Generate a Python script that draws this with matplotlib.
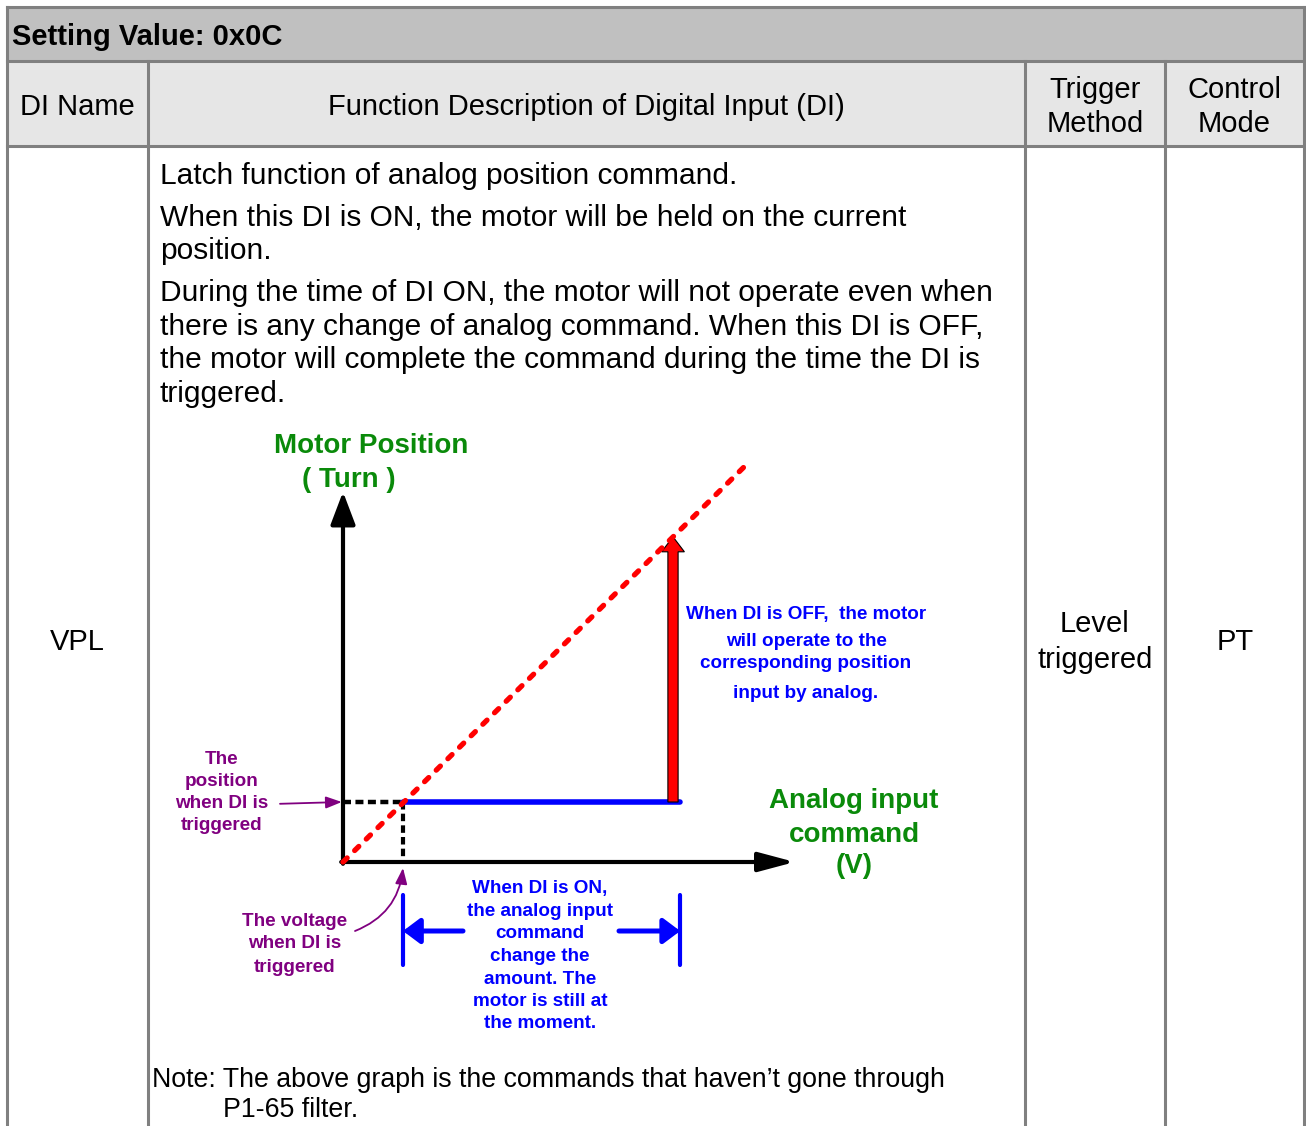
import matplotlib
matplotlib.use('Agg')
import matplotlib.pyplot as plt

plt.rcParams['font.family'] = ['Liberation Sans', 'DejaVu Sans']

# table content
title = "Setting Value: 0x0C"
headers = ["DI Name", "Function Description of Digital Input (DI)",
           "Trigger\nMethod", "Control\nMode"]
di_name = "VPL"
trigger_method = "Level\ntriggered"
control_mode = "PT"
desc_lines = [
    "Latch function of analog position command.",
    "When this DI is ON, the motor will be held on the current",
    "position.",
    "During the time of DI ON, the motor will not operate even when",
    "there is any change of analog command. When this DI is OFF,",
    "the motor will complete the command during the time the DI is",
    "triggered.",
]
note_lines = ["Note: The above graph is the commands that haven\u2019t gone through",
              "P1-65 filter."]

# diagram values (x: analog command, y: motor position)
cmd_x = [0, 6.7]
cmd_y = [0, 6.6]
trigger_v = 1.0
held_pos = 1.0
release_v = 5.5
released_pos = 5.42
hold_end_v = 5.62
x_axis_end = 7.53
y_axis_end = 6.17

on_lines = ["When DI is ON,", "the analog input", "command", "change the",
            "amount. The", "motor is still at", "the moment."]
off_lines = ["When DI is OFF,  the motor", "will operate to the",
             "corresponding position", "input by analog."]
pos_lines = ["The", "position", "when DI is", "triggered"]
volt_lines = ["The voltage", "when DI is", "triggered"]

GREEN = '#0a8a0a'
PURPLE = '#800080'
GRID = '#808080'
dy = 2  # small nudge for vertically centred text

fig = plt.figure(figsize=(13.06, 11.26), dpi=100)
ax = fig.add_axes([0, 0, 1, 1])
ax.set_xlim(0, 1306)
ax.set_ylim(1126, 0)
ax.axis('off')

# --- table frame ---
col_x = [7, 148, 1025, 1165, 1304]
row_y = [7, 61, 146]
ax.fill_between([col_x[0], col_x[-1]], row_y[0], row_y[1], color='#c0c0c0', lw=0)
ax.fill_between([col_x[0], col_x[-1]], row_y[1], row_y[2], color='#e6e6e6', lw=0)
lw_grid = 2.2
for y in row_y:
    ax.plot([col_x[0], col_x[-1]], [y, y], color=GRID, lw=lw_grid)
ax.plot([col_x[0], col_x[0]], [row_y[0], 1126], color=GRID, lw=lw_grid)
ax.plot([col_x[-1], col_x[-1]], [row_y[0], 1126], color=GRID, lw=lw_grid)
for x in col_x[1:-1]:
    ax.plot([x, x], [row_y[1], 1126], color=GRID, lw=lw_grid)

fs = 21
ax.text(12, 35 + dy, title, fontsize=fs, fontweight='bold', ha='left', va='center')
for i, h in enumerate(headers):
    ax.text((col_x[i] + col_x[i + 1]) / 2, 105 + dy, h, fontsize=fs,
            ha='center', va='center', linespacing=1.3)

ax.text(77, 640 + dy, di_name, fontsize=fs, ha='center', va='center')
ax.text(1095, 640 + dy, trigger_method, fontsize=fs, ha='center', va='center',
        linespacing=1.38)
ax.text(1235, 640 + dy, control_mode, fontsize=fs, ha='center', va='center')

desc_y = [174, 216, 249, 291, 325, 358, 392]
for line, y in zip(desc_lines, desc_y):
    ax.text(160, y + dy, line, fontsize=21.5, ha='left', va='center')
ax.text(152, 1078 + dy, note_lines[0], fontsize=19.3, ha='left', va='center')
ax.text(223, 1108 + dy, note_lines[1], fontsize=19.3, ha='left', va='center')

# --- diagram ---
px = 60.0
ox, oy = 343, 862
ax2 = fig.add_axes([0, 0, 1, 1])
ax2.set_xlim(-ox / px, (1306 - ox) / px)
ax2.set_ylim(-(1126 - oy) / px, oy / px)
ax2.axis('off')
ax2.patch.set_alpha(0)

ax2.annotate('', xy=(0, y_axis_end), xytext=(0, -0.03),
             arrowprops=dict(arrowstyle='-|>,head_length=0.95,head_width=0.36',
                             mutation_scale=21, lw=3, color='black',
                             shrinkA=0, shrinkB=0))
ax2.annotate('', xy=(x_axis_end, 0), xytext=(-0.03, 0),
             arrowprops=dict(arrowstyle='-|>,head_length=1.05,head_width=0.28',
                             mutation_scale=21, lw=3, color='black',
                             shrinkA=0, shrinkB=0))

ax2.plot([0, trigger_v], [held_pos, held_pos], color='black', lw=3.2,
         linestyle=(0, (1.8, 1.0)))
ax2.plot([trigger_v, trigger_v], [held_pos, 0], color='black', lw=3.0,
         linestyle=(0, (1.8, 1.0)))
ax2.plot([trigger_v, hold_end_v], [held_pos, held_pos], color='blue', lw=4,
         solid_capstyle='round', zorder=3)
ax2.arrow(release_v, held_pos, 0, released_pos - held_pos, width=0.17,
          head_width=0.38, head_length=0.25, length_includes_head=True,
          fc='red', ec='black', lw=0.8, zorder=4)
ax2.plot(cmd_x, cmd_y, color='red', lw=3.8, linestyle=(0, (1.1, 2.0)),
         dash_capstyle='round', zorder=5)

# dimension marks
for xv in (trigger_v, hold_end_v):
    ax2.plot([xv, xv], [-0.55, -1.72], color='blue', lw=3,
             solid_capstyle='round')
dim = dict(arrowstyle='-|>,head_length=0.6,head_width=0.45', mutation_scale=17,
           lw=3.6, color='blue', shrinkA=0, shrinkB=0)
ax2.annotate('', xy=(trigger_v, -1.15), xytext=(2.0, -1.15), arrowprops=dim)
ax2.annotate('', xy=(hold_end_v, -1.15), xytext=(4.6, -1.15), arrowprops=dim)

pa = dict(arrowstyle='-|>,head_length=0.8,head_width=0.3', mutation_scale=12,
          lw=1.3, color=PURPLE, shrinkA=0, shrinkB=0)
ax2.annotate('', xy=(-0.02, held_pos), xytext=(-1.05, 0.97), arrowprops=pa)
ax2.annotate('', xy=(trigger_v, -0.1), xytext=(0.2, -1.15),
             arrowprops=dict(pa, connectionstyle='arc3,rad=0.3'))

# diagram text
tb = dict(fontweight='bold', ha='center', va='center')
ax.text(371, 444 + dy, "Motor Position", fontsize=20, color=GREEN, **tb)
ax.text(349, 478 + dy, "( Turn )", fontsize=20, color=GREEN, **tb)
for line, y in zip(["Analog input", "command", "(V)"], [799, 833, 864]):
    ax.text(854, y + dy, line, fontsize=20, color=GREEN, **tb)
for line, y in zip(off_lines, [613, 639, 661, 692]):
    ax.text(806, y + dy, line, fontsize=13.6, color='blue', **tb)
for i, line in enumerate(on_lines):
    ax.text(540, 887 + dy + i * 22.5, line, fontsize=13.6, color='blue', **tb)
for line, y in zip(pos_lines, [757, 779, 801, 824]):
    ax.text(222, y + dy, line, fontsize=13.6, color=PURPLE, **tb)
for line, y in zip(volt_lines, [920, 942, 965]):
    ax.text(295, y + dy, line, fontsize=13.6, color=PURPLE, **tb)

fig.savefig('out.png', dpi=100)
